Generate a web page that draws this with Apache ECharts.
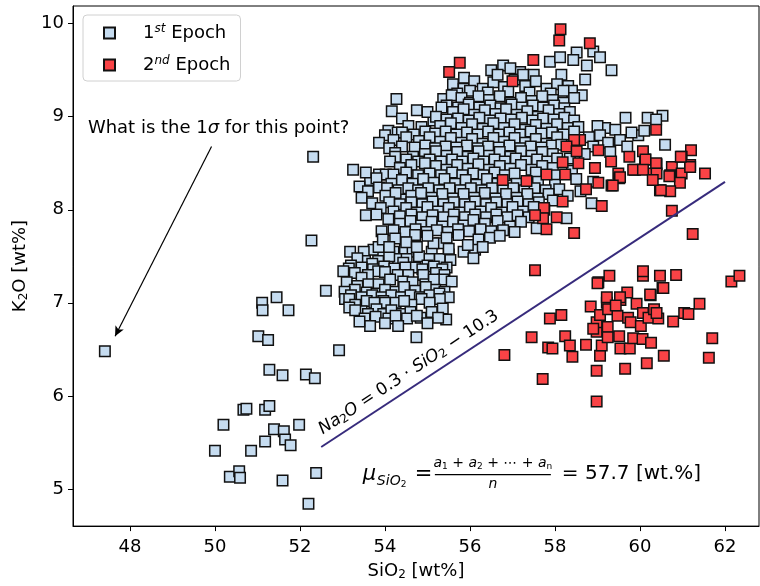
<!DOCTYPE html>
<html>
<head>
<meta charset="utf-8">
<script src="https://cdn.jsdelivr.net/npm/echarts@6/dist/echarts.min.js"></script>
<style>
  html, body { margin: 0; padding: 0; background: #fff; }
  #main { width: 760px; height: 586px; }
</style>
</head>
<body>
<div id="main"></div>
<script>
const FONT = 'DejaVu Sans'

// ticks
const xTicks = [48, 50, 52, 54, 56, 58, 60, 62]
const yTicks = [5, 6, 7, 8, 9, 10]

// 1st epoch (SiO2, K2O)
const epoch1Outliers = [
  [47.41, 6.48], [51.11, 7.0], [51.12, 6.92], [51.45, 7.06], [51.73, 6.92], [51.02, 6.64], [51.25, 6.6],
  [51.28, 6.28], [51.59, 6.22], [52.14, 6.23], [52.35, 6.19], [52.92, 6.49], [52.61, 7.13], [50.67, 5.85],
  [50.74, 5.86], [51.18, 5.85], [51.28, 5.89], [50.2, 5.69], [51.39, 5.64], [51.62, 5.62], [51.65, 5.53],
  [51.78, 5.47], [51.98, 5.69], [51.18, 5.51], [50.85, 5.41], [50.0, 5.41], [50.35, 5.13], [50.57, 5.19],
  [50.59, 5.12], [51.59, 5.09], [52.38, 5.17], [52.2, 4.84], [52.31, 8.57], [52.27, 7.67]
]
const epoch1Lower = [
  [53.18, 7.55], [53.73, 7.57], [53.96, 7.55], [54.47, 7.57], [55.3, 7.64], [55.85, 7.55],
  [53.5, 7.55], [53.85, 7.6], [54.2, 7.55], [54.65, 7.55], [55.1, 7.55], [55.5, 7.52],
  [53.53, 7.45], [53.84, 7.45], [54.31, 7.47], [54.51, 7.47], [55.04, 7.47], [55.29, 7.47], [55.54, 7.46],
  [53.35, 7.48], [54.1, 7.5], [54.8, 7.5], [53.7, 7.42], [54.43, 7.43], [54.71, 7.38], [55.0, 7.4], [55.45, 7.38], [53.2, 7.4],
  [53.15, 7.37], [53.45, 7.38], [53.72, 7.36], [53.98, 7.39], [54.22, 7.37], [54.48, 7.38], [54.88, 7.36], [55.15, 7.39], [55.35, 7.36],
  [53.02, 7.34], [53.29, 7.32], [53.84, 7.34], [55.2, 7.32], [53.6, 7.3], [54.0, 7.33], [54.3, 7.3], [54.55, 7.3],
  [54.9, 7.3], [55.4, 7.3], [53.45, 7.27],
  [54.12, 7.25], [54.43, 7.23], [55.37, 7.25], [55.57, 7.23], [53.61, 7.2], [53.1, 7.22], [53.35, 7.18], [53.85, 7.2],
  [54.65, 7.22], [54.95, 7.2], [55.15, 7.25],
  [54.24, 7.12], [53.57, 7.11], [53.29, 7.14], [54.71, 7.13], [55.18, 7.14], [54.96, 7.17], [54.45, 7.17], [53.05, 7.12],
  [53.8, 7.1], [54.0, 7.14], [55.4, 7.12],
  [53.2, 7.08], [53.45, 7.06], [53.7, 7.08], [53.92, 7.06], [54.15, 7.08], [54.38, 7.06], [54.6, 7.08], [54.82, 7.06],
  [55.05, 7.08], [55.28, 7.1], [55.5, 7.06],
  [53.96, 7.02], [53.57, 7.02], [53.06, 7.04], [55.29, 7.04], [54.86, 7.04], [54.0, 7.0], [54.62, 6.98], [53.16, 7.04],
  [53.3, 6.98], [54.25, 7.0], [54.45, 7.02], [55.05, 7.0], [53.75, 7.0],
  [53.8, 6.93], [53.16, 6.95], [53.45, 6.91], [53.96, 6.88], [54.38, 6.88], [54.84, 6.84], [55.44, 6.82], [55.36, 6.94],
  [54.15, 6.92], [54.6, 6.9], [55.1, 6.9], [53.6, 6.88], [53.3, 6.92],
  [53.52, 6.83], [53.78, 6.85], [54.08, 6.83], [54.25, 6.86], [54.52, 6.83], [54.75, 6.86], [55.25, 6.84],
  [54.31, 6.75], [53.65, 6.75], [54.74, 6.63], [54.0, 6.78], [53.4, 6.8], [55.0, 6.78]
]
const epoch1Upper = [
  [56.78, 9.55], [57.18, 9.48], [57.88, 9.59], [58.15, 9.45], [58.31, 9.33], [58.12, 9.64], [58.51, 9.69], [58.9, 9.7],
  [59.06, 9.64], [58.75, 9.55], [59.33, 9.5], [58.71, 9.4], [58.63, 9.23], [58.43, 9.61], [55.86, 9.42], [56.5, 9.5],
  [57.5, 9.45], [56.95, 9.52],
  [55.6, 9.35], [55.85, 9.3], [56.1, 9.38], [56.3, 9.3], [56.55, 9.37], [56.8, 9.32], [57.05, 9.4], [57.3, 9.33],
  [57.55, 9.38], [57.8, 9.3], [58.05, 9.35], [58.4, 9.28], [56.65, 9.45], [57.25, 9.45],
  [56.0, 9.28], [56.42, 9.26], [56.9, 9.27], [57.4, 9.26], [57.9, 9.25], [58.2, 9.28], [55.7, 9.25],
  [54.27, 9.19], [55.37, 9.19], [55.57, 9.23], [55.8, 9.2], [56.0, 9.15], [56.2, 9.22], [56.45, 9.18], [56.7, 9.22],
  [56.95, 9.15], [57.2, 9.2], [57.45, 9.17], [57.7, 9.22], [57.95, 9.18], [58.2, 9.15], [58.45, 9.2],
  [55.45, 9.12], [55.72, 9.1], [55.97, 9.13], [56.22, 9.1], [56.48, 9.12], [56.72, 9.09], [56.98, 9.13], [57.22, 9.1],
  [57.48, 9.12], [57.72, 9.1], [57.98, 9.12], [58.22, 9.09],
  [54.16, 9.06], [54.75, 9.07], [55.14, 8.96], [55.33, 9.1], [55.6, 9.05], [55.85, 9.08], [56.1, 9.02], [56.35, 9.07],
  [56.6, 9.03], [56.85, 9.08], [57.1, 9.02], [57.35, 9.06], [57.6, 9.0], [57.85, 9.07], [58.1, 9.03], [58.35, 9.05], [55.0, 9.05],
  [54.4, 8.98], [55.2, 9.0], [55.45, 8.97], [55.72, 8.98], [55.97, 8.96], [56.22, 8.99], [56.47, 8.96], [56.72, 8.98],
  [56.97, 8.97], [57.22, 8.99], [57.47, 8.96], [57.72, 8.98], [57.97, 8.97], [58.22, 8.99], [58.45, 8.96],
  [54.08, 8.85], [54.3, 8.83], [54.86, 8.89], [54.55, 8.9], [55.3, 8.9], [55.55, 8.93], [55.8, 8.88], [56.05, 8.92],
  [56.3, 8.87], [56.55, 8.93], [56.8, 8.88], [57.05, 8.92], [57.3, 8.86], [57.55, 8.91], [57.8, 8.87], [58.05, 8.92],
  [58.3, 8.88], [58.55, 8.89], [59.18, 8.88], [59.66, 8.99], [60.18, 8.99], [60.53, 9.01], [60.38, 8.97],
  [54.0, 8.8], [54.4, 8.83], [54.68, 8.81], [54.95, 8.84], [55.18, 8.82], [55.43, 8.84], [55.68, 8.81], [55.93, 8.83],
  [56.18, 8.81], [56.43, 8.84], [56.68, 8.81], [56.93, 8.83], [57.18, 8.81], [57.43, 8.84], [57.68, 8.82], [57.93, 8.83],
  [58.2, 8.81], [58.45, 8.84], [59.42, 8.86], [59.0, 8.9],
  [53.86, 8.72], [54.2, 8.75], [54.5, 8.78], [54.8, 8.74], [55.05, 8.78], [55.3, 8.73], [55.55, 8.77], [55.8, 8.72],
  [56.05, 8.76], [56.3, 8.71], [56.55, 8.77], [56.8, 8.73], [57.05, 8.77], [57.3, 8.72], [57.55, 8.76], [57.8, 8.71],
  [58.05, 8.78], [58.8, 8.78], [59.06, 8.8], [59.25, 8.72], [59.53, 8.75], [59.96, 8.8], [60.59, 8.7], [60.1, 8.85], [59.8, 8.83],
  [54.1, 8.66], [54.4, 8.68], [54.7, 8.67], [54.95, 8.69], [55.18, 8.66], [55.43, 8.68], [55.68, 8.67], [55.93, 8.69],
  [56.18, 8.66], [56.43, 8.68], [56.68, 8.67], [56.93, 8.69], [57.18, 8.66], [57.43, 8.68], [57.68, 8.67], [57.93, 8.69],
  [58.15, 8.7], [59.7, 8.68], [58.9, 8.68],
  [54.24, 8.61], [54.24, 8.57], [54.66, 8.57], [54.94, 8.6], [55.2, 8.63], [55.45, 8.58], [55.7, 8.62], [55.95, 8.57],
  [56.2, 8.63], [56.45, 8.58], [56.7, 8.62], [56.95, 8.57], [57.2, 8.63], [57.45, 8.58], [57.7, 8.62], [57.95, 8.6],
  [58.7, 8.6], [59.3, 8.62],
  [54.12, 8.52], [54.5, 8.54], [54.78, 8.52], [55.05, 8.54], [55.32, 8.52], [55.58, 8.54], [55.82, 8.52], [56.08, 8.55],
  [56.32, 8.52], [56.58, 8.54], [56.82, 8.52], [57.08, 8.55], [57.32, 8.52], [57.58, 8.54], [57.82, 8.52], [58.05, 8.55], [58.35, 8.55],
  [53.25, 8.43], [53.65, 8.32], [53.86, 8.38], [54.02, 8.38], [54.62, 8.48], [54.94, 8.5], [54.35, 8.45], [55.2, 8.47],
  [55.45, 8.43], [55.7, 8.48], [55.95, 8.44], [56.2, 8.49], [56.45, 8.43], [56.7, 8.47], [56.95, 8.44], [57.2, 8.48],
  [57.45, 8.43], [57.7, 8.47], [57.95, 8.45],
  [53.55, 8.4], [54.2, 8.38], [54.5, 8.4], [54.78, 8.37], [55.05, 8.39], [55.32, 8.37], [55.58, 8.4], [55.82, 8.37],
  [56.08, 8.39], [56.32, 8.37], [56.58, 8.4], [56.82, 8.37], [57.05, 8.39], [57.55, 8.4], [58.0, 8.37], [58.4, 8.42],
  [53.4, 8.25], [53.8, 8.34], [53.86, 8.24], [54.15, 8.28], [54.4, 8.32], [54.65, 8.28], [54.9, 8.33], [55.15, 8.29],
  [55.4, 8.33], [55.65, 8.28], [55.9, 8.32], [56.15, 8.27], [56.4, 8.33], [56.65, 8.28], [57.1, 8.28], [57.6, 8.3],
  [58.0, 8.27], [58.5, 8.33], [58.9, 8.3],
  [53.6, 8.2], [54.05, 8.23], [54.32, 8.21], [54.55, 8.23], [54.78, 8.21], [55.02, 8.23], [55.28, 8.21], [55.52, 8.23],
  [55.78, 8.21], [56.02, 8.23], [56.28, 8.21], [56.52, 8.23], [56.78, 8.21], [57.02, 8.23], [57.28, 8.21], [57.52, 8.23],
  [57.78, 8.21], [58.1, 8.22], [58.6, 8.2],
  [53.45, 8.13], [54.01, 8.15], [54.47, 8.11], [54.62, 8.15], [54.25, 8.18], [54.85, 8.18], [55.1, 8.13], [55.35, 8.17],
  [55.6, 8.12], [55.85, 8.17], [56.1, 8.13], [56.35, 8.18], [56.6, 8.12], [56.85, 8.17], [57.1, 8.13], [57.35, 8.17],
  [57.6, 8.12], [57.85, 8.17], [58.3, 8.15],
  [53.7, 8.07], [54.1, 8.08], [54.35, 8.06], [54.62, 8.08], [54.88, 8.06], [55.12, 8.09], [55.38, 8.06], [55.62, 8.08],
  [55.88, 8.06], [56.12, 8.09], [56.38, 8.06], [56.62, 8.08], [56.88, 8.06], [57.12, 8.09], [57.38, 8.06], [57.62, 8.08], [57.95, 8.1],
  [53.55, 7.94], [53.9, 8.02], [54.2, 7.98], [54.5, 8.02], [54.75, 7.97], [55.0, 8.03], [55.25, 7.98], [55.5, 8.02],
  [55.75, 7.97], [56.0, 8.03], [56.25, 7.98], [56.5, 8.02], [56.75, 7.97], [57.0, 8.03], [57.25, 7.98], [57.5, 8.03],
  [57.75, 8.0], [58.27, 7.91], [58.86, 8.07],
  [53.8, 7.95], [54.35, 7.93], [54.62, 7.95], [54.88, 7.92], [55.12, 7.94], [55.38, 7.92], [55.62, 7.95], [55.88, 7.92],
  [56.12, 7.95], [56.38, 7.92], [56.62, 7.95], [56.88, 7.92], [57.12, 7.94], [57.38, 7.92],
  [54.08, 7.9], [54.35, 7.85], [54.6, 7.88], [54.85, 7.83], [55.1, 7.87], [55.35, 7.82], [55.6, 7.87], [55.85, 7.83],
  [56.08, 7.89], [56.35, 7.85], [56.94, 7.82], [57.2, 7.87], [57.57, 7.8], [56.65, 7.88], [53.92, 7.77],
  [54.2, 7.78], [54.48, 7.76], [54.72, 7.79], [54.98, 7.76], [55.22, 7.78], [55.48, 7.76], [55.72, 7.79], [55.98, 7.77],
  [56.25, 7.79], [56.5, 7.77], [56.78, 7.78], [57.05, 7.76],
  [54.24, 7.69], [54.71, 7.73], [55.14, 7.64], [55.73, 7.73], [56.47, 7.7], [56.2, 7.68], [56.12, 7.57], [56.08, 7.48],
  [55.0, 7.72], [55.45, 7.7], [54.5, 7.65], [53.95, 7.68], [56.7, 7.72],
  [54.75, 7.6], [55.5, 7.58], [55.95, 7.62], [56.3, 7.6], [54.1, 7.6]
]
const epoch1 = epoch1Outliers.concat(epoch1Lower, epoch1Upper)

// 2nd epoch
const epoch2 = [
  [58.13, 9.94], [58.1, 9.82], [58.82, 9.79], [57.49, 9.61], [55.76, 9.58], [55.51, 9.48], [57.0, 9.38],
  [60.38, 8.86], [61.2, 8.64], [61.53, 8.39], [60.75, 7.99], [61.24, 7.74], [57.53, 7.35],
  [59.75, 8.57], [60.12, 8.54], [60.39, 8.49], [60.98, 8.57], [60.75, 8.46], [60.98, 8.39], [60.71, 8.37], [60.94, 8.29],
  [60.47, 8.21], [60.71, 8.2], [59.88, 8.43], [60.31, 8.39], [61.18, 8.48], [59.49, 8.39], [59.51, 8.34], [59.32, 8.52],
  [59.02, 8.64], [58.94, 8.45], [59.33, 8.26], [59.02, 8.29], [58.73, 8.22], [59.1, 8.04], [58.55, 8.5], [58.59, 8.75],
  [58.45, 8.75], [58.27, 8.68], [58.51, 8.63], [58.18, 8.51], [58.24, 8.38], [57.8, 8.38], [57.33, 8.31], [56.77, 8.32],
  [58.18, 8.09], [57.74, 8.02], [57.72, 7.91], [58.04, 7.92], [57.8, 7.79], [58.45, 7.75], [57.53, 7.94],
  [60.07, 8.63], [60.13, 8.54], [60.38, 8.5], [60.69, 8.36], [60.49, 8.21], [59.84, 8.43], [60.07, 8.43], [59.53, 8.35],
  [59.36, 8.26], [60.39, 8.39], [60.3, 8.32], [61.18, 8.46], [60.96, 8.57],
  [56.81, 6.44], [57.45, 6.63], [57.71, 6.18], [57.88, 6.83], [58.15, 6.87], [57.84, 6.52], [57.94, 6.51], [58.24, 6.64],
  [58.35, 6.54], [58.41, 6.42], [58.73, 6.55], [58.84, 6.96], [58.98, 5.94], [58.98, 6.27], [59.06, 6.43], [59.1, 6.54],
  [58.98, 6.69], [58.98, 6.79], [59.06, 6.87], [59.22, 7.0], [59.25, 6.93], [59.24, 6.74], [59.24, 6.63], [59.47, 6.86],
  [59.54, 7.03], [59.51, 6.64], [59.54, 6.51], [59.65, 6.29], [59.7, 7.11], [59.92, 6.99], [59.72, 6.84], [59.78, 6.79],
  [59.76, 6.51], [59.84, 6.62], [60.02, 6.75], [60.06, 6.61], [60.07, 6.89], [60.2, 6.84], [60.25, 7.08], [60.16, 6.35],
  [60.26, 6.57], [60.33, 6.93], [60.43, 6.83], [60.53, 7.16], [60.56, 6.43], [60.78, 6.8], [61.04, 6.89], [61.14, 6.88],
  [61.4, 6.99], [61.62, 6.41], [61.7, 6.62], [62.15, 7.23], [62.34, 7.29], [59.02, 7.22], [59.28, 7.29], [60.07, 7.29],
  [60.47, 7.29], [60.85, 7.3], [60.55, 7.16], [60.24, 7.09], [59.53, 7.06], [59.22, 7.06], [60.07, 7.34], [59.0, 7.21],
  [59.43, 6.97], [60.39, 6.89], [58.9, 6.72]
]

// Na2O = 0.3*SiO2 - 10.3, end points as drawn
const fitLine = [[52.5, 5.45], [62.0, 8.3]]
const arrowFrom = [49.92, 8.68]
const arrowTo = [47.65, 6.64]

const chart = echarts.init(document.getElementById('main'))

const subRich = {
  s: { fontSize: 12, lineHeight: 12, verticalAlign: 'bottom', fontFamily: FONT, color: '#000' }
}

chart.setOption({
  animation: false,
  textStyle: { fontFamily: FONT },
  grid: { left: 73, right: 1, top: 6, bottom: 58, show: true, borderColor: '#000', borderWidth: 1 },
  legend: {
    data: ['1st Epoch', '2nd Epoch'],
    orient: 'vertical',
    left: 83,
    top: 15,
    itemWidth: 11,
    itemHeight: 11,
    itemGap: 13,
    padding: [8, 10, 7, 20],
    borderColor: '#d0d0d0',
    borderWidth: 1,
    borderRadius: 4,
    backgroundColor: 'rgba(255,255,255,0.8)',
    formatter: function (name) {
      return name === '1st Epoch' ? '{f|1}{p|st}{n| Epoch}' : '{f|2}{p|nd}{n| Epoch}'
    },
    textStyle: {
      fontSize: 18,
      color: '#000',
      rich: {
        f: { fontSize: 18, lineHeight: 20, padding: [0, 0, 0, 23], fontFamily: FONT },
        n: { fontSize: 18, lineHeight: 20, fontFamily: FONT },
        p: { fontSize: 12, lineHeight: 12, verticalAlign: 'top', fontStyle: 'italic', fontFamily: FONT }
      }
    }
  },
  xAxis: {
    type: 'value',
    min: 46.66,
    max: 62.8,
    axisLine: { onZero: false, lineStyle: { color: '#000', width: 1 } },
    axisTick: { customValues: xTicks, length: 5, lineStyle: { color: '#000' } },
    axisLabel: { customValues: xTicks, fontSize: 18, color: '#000', margin: 12 },
    splitLine: { show: false },
    name: 'SiO{s|2} [wt%]',
    nameLocation: 'middle',
    nameGap: 34,
    nameTextStyle: { fontSize: 18, color: '#000', lineHeight: 20, rich: subRich }
  },
  yAxis: {
    type: 'value',
    min: 4.6,
    max: 10.19,
    axisLine: { onZero: false, lineStyle: { color: '#000', width: 1 } },
    axisTick: { customValues: yTicks, length: 5, lineStyle: { color: '#000' } },
    axisLabel: { customValues: yTicks, fontSize: 18, color: '#000', margin: 9 },
    splitLine: { show: false },
    name: 'K{s|2}O [wt%]',
    nameLocation: 'middle',
    nameGap: 41,
    nameTextStyle: { fontSize: 18, color: '#000', lineHeight: 20, rich: subRich }
  },
  series: [
    {
      name: '1st Epoch',
      type: 'scatter',
      symbol: 'rect',
      symbolSize: 10.5,
      data: epoch1,
      itemStyle: { color: '#c6dcf0', borderColor: '#111', borderWidth: 1.5, opacity: 1 },
      emphasis: { disabled: true },
      z: 2
    },
    {
      name: '2nd Epoch',
      type: 'scatter',
      symbol: 'rect',
      symbolSize: 10.5,
      data: epoch2,
      itemStyle: { color: '#f94346', borderColor: '#111', borderWidth: 1.5, opacity: 1 },
      emphasis: { disabled: true },
      z: 3
    },
    {
      name: 'fit',
      type: 'line',
      data: fitLine,
      showSymbol: false,
      silent: true,
      lineStyle: { color: '#372b7c', width: 2 },
      z: 4,
      markLine: {
        silent: true,
        symbol: ['none', 'arrow'],
        symbolSize: [7, 10],
        label: { show: false },
        lineStyle: { color: '#000', width: 1.2, type: 'solid' },
        emphasis: { disabled: true },
        data: [[{ coord: arrowFrom }, { coord: arrowTo }]]
      }
    }
  ]
})

// annotations anchored on data coordinates
function px(p) { return chart.convertToPixel({ gridIndex: 0 }, p) }
const qPos = px([47.01, 8.88])
const eqPos = px([54.56, 6.25])
const muPos = px([53.48, 5.153])
const bx = muPos[0], by = muPos[1]
const mathRich = {
  i: { fontStyle: 'italic', fontSize: 17, lineHeight: 19, fontFamily: FONT },
  n: { fontSize: 17, lineHeight: 19, fontFamily: FONT },
  s: { fontStyle: 'normal', fontSize: 12, lineHeight: 12, verticalAlign: 'bottom', fontFamily: FONT }
}
const fracRich = {
  i: { fontStyle: 'italic', fontSize: 14, lineHeight: 16, fontFamily: FONT },
  n: { fontSize: 14, lineHeight: 16, fontFamily: FONT },
  s: { fontSize: 9, lineHeight: 9, verticalAlign: 'bottom', fontFamily: FONT }
}

chart.setOption({
  graphic: [
    {
      type: 'text', x: qPos[0], y: qPos[1], silent: true,
      style: {
        text: 'What is the 1{g|σ} for this point?', fontSize: 18, fontFamily: FONT, fill: '#000',
        verticalAlign: 'middle', align: 'left',
        rich: { g: { fontStyle: 'italic', fontSize: 18, fontFamily: FONT } }
      }
    },
    {
      type: 'text', x: eqPos[0], y: eqPos[1], rotation: 33.4 * Math.PI / 180, silent: true,
      style: {
        text: '{i|Na}{s|2}{i|O}{n| = 0.3 · }{i|SiO}{s|2}{n| − 10.3}',
        align: 'center', verticalAlign: 'middle', fill: '#000', rich: mathRich
      }
    },
    {
      type: 'text', x: bx, y: by, silent: true,
      style: { text: 'μ', fontStyle: 'italic', fontSize: 21, fontFamily: FONT, fill: '#000', align: 'left', verticalAlign: 'middle' }
    },
    {
      type: 'text', x: bx + 14, y: by + 7, silent: true,
      style: { text: '{i|SiO}{s|2}', fill: '#000', align: 'left', verticalAlign: 'middle', rich: fracRich }
    },
    {
      type: 'text', x: bx + 52, y: by, silent: true,
      style: { text: '=', fontSize: 21, fontFamily: FONT, fill: '#000', align: 'left', verticalAlign: 'middle' }
    },
    {
      type: 'text', x: bx + 130, y: by - 11, silent: true,
      style: {
        text: '{i|a}{s|1}{n| + }{i|a}{s|2}{n| + ⋯ + }{i|a}{s|n}', fill: '#000',
        align: 'center', verticalAlign: 'middle', rich: fracRich
      }
    },
    {
      type: 'line', silent: true,
      shape: { x1: bx + 72, y1: by, x2: bx + 188, y2: by },
      style: { stroke: '#000', lineWidth: 1.2 }
    },
    {
      type: 'text', x: bx + 130, y: by + 10, silent: true,
      style: { text: 'n', fontStyle: 'italic', fontSize: 14, fontFamily: FONT, fill: '#000', align: 'center', verticalAlign: 'middle' }
    },
    {
      type: 'text', x: bx + 199, y: by - 1, silent: true,
      style: { text: '= 57.7 [wt.%]', fontSize: 20, fontFamily: FONT, fill: '#000', align: 'left', verticalAlign: 'middle' }
    }
  ]
})
</script>
</body>
</html>
